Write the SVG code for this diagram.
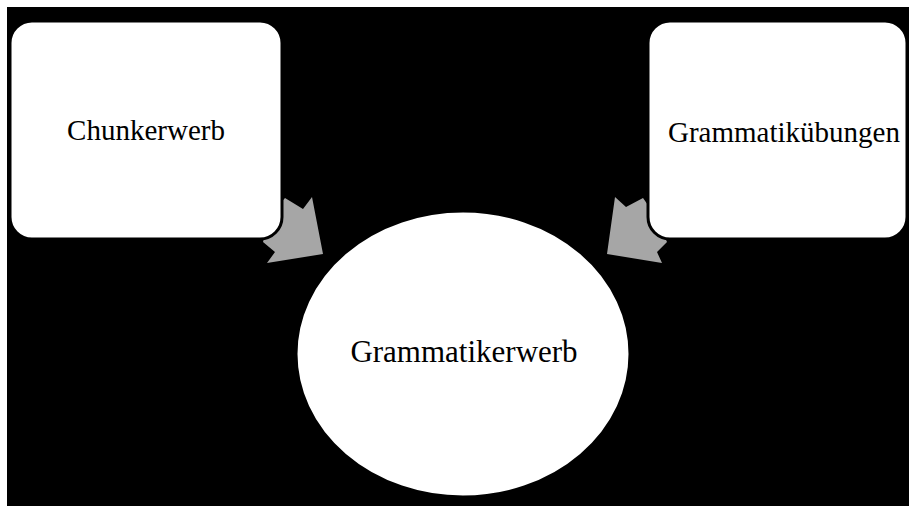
<svg xmlns="http://www.w3.org/2000/svg" width="909" height="506" viewBox="0 0 909 506">
<style>
.box{fill:#ffffff;stroke:#000000;stroke-width:3}
.arr{fill:#a6a6a6;stroke:none}
.lbl{font-family:"Liberation Serif","Times New Roman",serif;fill:#000000;text-anchor:middle}
</style>
<rect x="0" y="0" width="909" height="506" fill="#ffffff"/>
<rect x="7" y="7" width="902" height="499" fill="#000000"/>
<g id="connectors">
<polygon class="arr" points="285,198 303,209 312,197 323,254 267,263 275,252 263,242 270,215"/>
<polygon class="arr" points="643,198 626,207 615,197 607,254 662,263 657,252 667,242 655,215"/>
</g>
<g id="node-chunkerwerb">
<rect class="box" x="10" y="21" width="272" height="218" rx="22" ry="22"/>
<text class="lbl" x="146" y="140" font-size="29">Chunkerwerb</text>
</g>
<g id="node-grammatikuebungen">
<rect class="box" x="648" y="21" width="259" height="218" rx="22" ry="22"/>
<text class="lbl" x="784" y="142" font-size="29">Grammatikübungen</text>
</g>
<g id="node-grammatikerwerb">
<ellipse class="box" cx="463" cy="354" rx="167" ry="143"/>
<text class="lbl" x="464" y="362" font-size="31">Grammatikerwerb</text>
</g>
</svg>
